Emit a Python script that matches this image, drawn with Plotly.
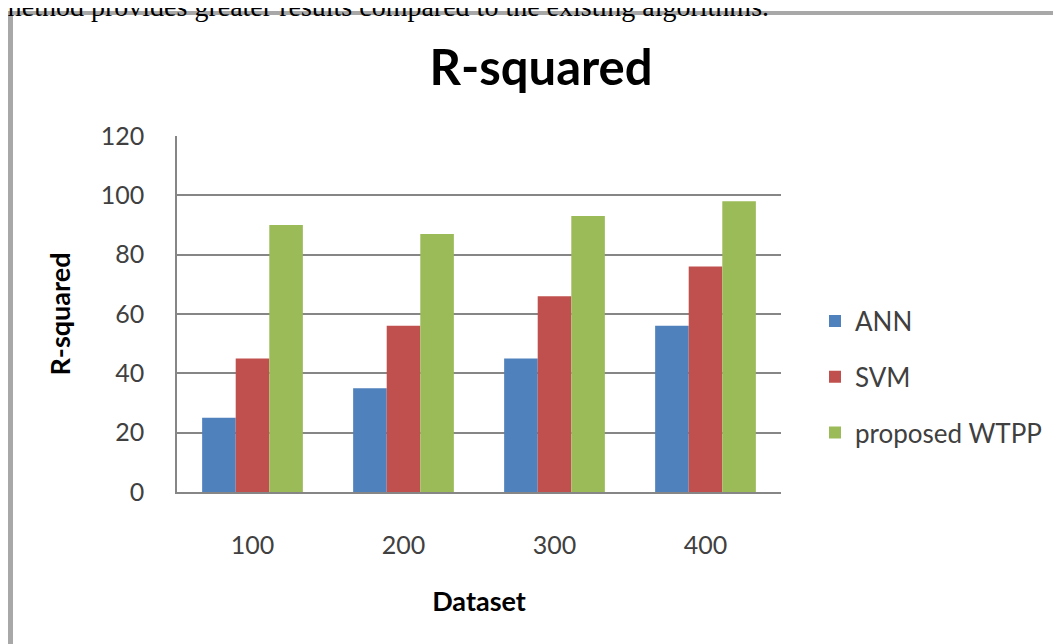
import plotly.graph_objects as go

categories = ["100", "200", "300", "400"]
ann = [25, 35, 45, 56]
svm = [45, 56, 66, 76]
wtpp = [90, 87, 93, 98]
series_names = ["ANN", "SVM", "proposed WTPP"]
colors = ["#4F81BD", "#C0504D", "#9BBB59"]
y_ticks = [0, 20, 40, 60, 80, 100, 120]

# page body adds an 8px margin, so the figure is sized to fit the window
OFF = 8
W, H = 1061 - OFF, 644 - OFF
L, T = 177 - OFF, 136 - OFF
plot_right, plot_bottom = 781 - OFF, 492 - OFF
R, B = W - plot_right, H - plot_bottom
pw, ph = W - L - R, H - T - B

def px_x(sx):
    return (sx - OFF - L) / pw

def px_y(sy):
    return (plot_bottom - (sy - OFF)) / ph

fig = go.Figure()
for i, (name, vals) in enumerate(zip(series_names, [ann, svm, wtpp])):
    fig.add_trace(go.Bar(
        x=categories, y=vals, name=name, marker_color=colors[i],
        marker_line_width=0, legendgroup=name,
    ))

font_family = "Lato, Open Sans, sans-serif"

fig.update_layout(
    width=W, height=H,
    margin=dict(l=L, r=R, t=T, b=B, autoexpand=False),
    paper_bgcolor="white", plot_bgcolor="white",
    barmode="group", bargap=0.333, bargroupgap=0,
    title=dict(text="<b>R-squared</b>", x=px_x(541), xref="paper", xanchor="center",
               y=1 - (68 - OFF) / H, yanchor="middle",
               font=dict(family=font_family, size=49, color="#000000")),
    font=dict(family=font_family, color="#404040"),
    showlegend=True,
    legend=dict(x=px_x(815), y=px_y(377), xanchor="left", yanchor="middle",
                font=dict(family=font_family, size=26, color="#404040"),
                tracegroupgap=19, bgcolor="rgba(0,0,0,0)"),
    xaxis=dict(
        type="category", showgrid=False, showline=True, linecolor="#868686", linewidth=1.5,
        ticks="", tickfont=dict(size=25, color="#404040"), ticklabelstandoff=30,
        title=dict(text="<b>Dataset</b>", font=dict(size=27, color="#000000"), standoff=34),
        automargin=False,
    ),
    yaxis=dict(
        range=[0, 120], tickvals=y_ticks, showgrid=True, gridcolor="#868686", gridwidth=1.5,
        showline=True, linecolor="#868686", linewidth=1.5, zeroline=False,
        ticks="", tickfont=dict(size=25, color="#404040"), ticklabelstandoff=26,
        title=dict(text="<b>R-squared</b>", font=dict(size=27, color="#000000"), standoff=22),
        automargin=False,
    ),
)

# chart frame (as in the source document screenshot)
fig.add_shape(type="line", xref="paper", yref="paper",
              x0=px_x(8), x1=px_x(1100), y0=px_y(13), y1=px_y(13),
              line=dict(color="#a8a8a8", width=4))
fig.add_shape(type="line", xref="paper", yref="paper",
              x0=px_x(10.5), x1=px_x(10.5), y0=px_y(11), y1=px_y(700),
              line=dict(color="#a8a8a8", width=5))

# cropped caption of the source document
fig.add_annotation(
    text="method provides greater results compared to the existing algorithms.",
    xref="paper", yref="paper", x=px_x(-2), y=px_y(24), xanchor="left", yanchor="bottom",
    showarrow=False, font=dict(family="Liberation Serif, serif", size=28, color="#000000"),
)

fig.write_html("out.html")
